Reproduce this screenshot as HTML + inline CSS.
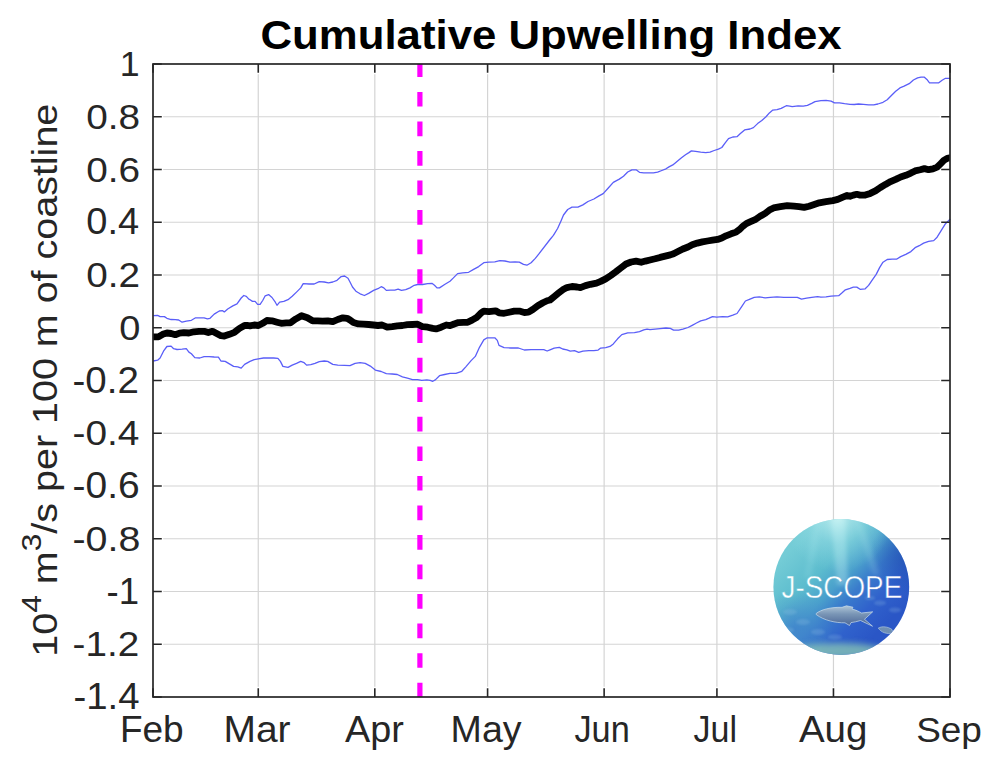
<!DOCTYPE html>
<html><head><meta charset="utf-8"><style>
html,body{margin:0;padding:0;background:#fff;width:1000px;height:769px;overflow:hidden}
svg{display:block}
text{font-family:"Liberation Sans",sans-serif;fill:#262626}
</style></head><body>
<svg width="1000" height="769" viewBox="0 0 1000 769">
<rect width="1000" height="769" fill="#fff"/>
<clipPath id="ax"><rect x="153" y="64" width="797" height="633"/></clipPath>
<g stroke="#d4d4d4" stroke-width="1.2">
<line x1="163.2" y1="116.75" x2="939.8" y2="116.75"/>
<line x1="163.2" y1="169.50" x2="939.8" y2="169.50"/>
<line x1="163.2" y1="222.25" x2="939.8" y2="222.25"/>
<line x1="163.2" y1="275.00" x2="939.8" y2="275.00"/>
<line x1="163.2" y1="327.75" x2="939.8" y2="327.75"/>
<line x1="163.2" y1="380.50" x2="939.8" y2="380.50"/>
<line x1="163.2" y1="433.25" x2="939.8" y2="433.25"/>
<line x1="163.2" y1="486.00" x2="939.8" y2="486.00"/>
<line x1="163.2" y1="538.75" x2="939.8" y2="538.75"/>
<line x1="163.2" y1="591.50" x2="939.8" y2="591.50"/>
<line x1="163.2" y1="644.25" x2="939.8" y2="644.25"/>
<line x1="258.26" y1="74.2" x2="258.26" y2="686.8"/>
<line x1="374.81" y1="74.2" x2="374.81" y2="686.8"/>
<line x1="487.59" y1="74.2" x2="487.59" y2="686.8"/>
<line x1="604.13" y1="74.2" x2="604.13" y2="686.8"/>
<line x1="716.92" y1="74.2" x2="716.92" y2="686.8"/>
<line x1="833.46" y1="74.2" x2="833.46" y2="686.8"/>
</g>
<path d="M153.4,315.7 L157.6,315.4 L160.1,316.6 L164.4,316.6 L166.9,318.3 L171.1,319.5 L175.3,319.6 L178.7,320.0 L182.1,322.2 L186.3,321.1 L191.4,320.3 L195.6,317.8 L199.8,317.9 L204.1,317.8 L207.4,318.8 L210.0,318.3 L214.2,314.1 L219.3,311.0 L222.6,310.7 L224.3,311.9 L227.7,309.0 L232.8,305.9 L237.0,303.9 L241.2,298.0 L243.8,295.5 L246.3,296.3 L248.8,299.2 L250.0,299.7 L252.5,301.4 L255.1,301.4 L257.6,304.3 L260.1,304.3 L262.7,300.5 L265.2,295.8 L268.6,294.6 L272.0,297.5 L275.3,302.2 L277.0,305.3 L279.6,302.2 L283.8,301.4 L288.0,299.7 L292.2,296.3 L296.5,292.1 L300.7,287.9 L303.2,283.6 L309.1,284.0 L314.2,284.0 L319.3,281.6 L324.3,282.0 L328.5,282.8 L332.8,282.0 L337.0,280.3 L341.2,276.6 L344.6,276.0 L348.0,278.2 L350.0,282.0 L352.5,287.0 L355.9,291.2 L360.1,293.8 L364.4,295.5 L368.6,293.4 L373.6,290.4 L377.9,288.7 L381.2,286.7 L383.8,287.9 L386.3,290.4 L390.5,290.1 L394.8,290.1 L398.1,289.1 L401.5,290.4 L405.7,289.6 L410.0,287.9 L414.2,285.3 L417.6,284.5 L422.6,284.5 L427.7,283.6 L431.9,283.3 L434.5,285.3 L437.0,287.9 L439.5,287.9 L444.6,284.5 L450.0,281.2 L453.4,277.9 L457.6,273.6 L462.7,272.8 L468.6,272.3 L473.6,269.4 L478.7,266.6 L483.8,262.7 L488.9,262.2 L494.8,261.8 L499.8,260.6 L504.9,261.0 L510.0,262.2 L515.0,261.8 L519.3,262.2 L523.5,264.4 L526.9,265.2 L531.1,262.7 L535.3,258.4 L538.7,254.2 L550.0,239.5 L553.4,235.3 L557.6,228.5 L561.0,220.9 L563.5,215.0 L567.7,209.5 L572.0,207.1 L577.9,207.1 L582.9,204.9 L588.0,201.5 L593.9,199.0 L599.0,195.9 L603.2,193.6 L608.3,188.0 L613.3,182.4 L619.3,179.1 L623.5,176.2 L627.7,172.0 L631.9,169.8 L636.1,169.8 L639.5,172.3 L643.8,172.8 L650.0,172.8 L653.4,172.8 L657.6,172.2 L661.8,170.5 L666.0,168.8 L669.4,166.6 L672.8,164.9 L677.0,161.5 L681.2,158.1 L685.5,154.8 L688.9,152.6 L691.4,150.9 L695.6,151.4 L700.7,152.2 L705.7,152.6 L710.0,152.2 L714.2,150.5 L718.4,149.2 L721.8,147.5 L725.2,142.9 L728.5,138.7 L732.8,137.0 L737.0,136.7 L740.4,133.6 L744.6,129.9 L750.0,129.0 L753.4,127.6 L757.6,123.6 L761.8,120.5 L766.0,116.8 L769.4,112.9 L772.8,110.1 L777.0,109.6 L781.2,108.4 L786.3,105.7 L789.7,106.2 L792.2,106.7 L798.1,105.8 L803.2,106.2 L807.4,105.3 L811.7,103.3 L815.0,101.6 L820.9,100.6 L826.0,100.3 L831.1,101.1 L834.5,102.8 L839.5,102.8 L844.6,103.6 L850.0,104.3 L854.2,104.5 L858.5,104.0 L863.5,104.3 L868.6,104.8 L873.7,104.8 L877.9,104.0 L883.0,102.3 L887.2,99.7 L891.4,95.5 L895.7,91.3 L899.9,87.9 L904.1,86.2 L909.2,83.7 L913.4,80.0 L917.6,77.8 L921.0,77.2 L924.4,77.2 L926.9,79.4 L929.5,82.8 L934.5,82.8 L938.8,82.8 L942.1,80.3 L945.5,78.3 L948.9,78.3 L950.3,78.6" fill="none" stroke="#5a5ef8" stroke-width="1.3" stroke-linejoin="round"/>
<path d="M153.4,361.0 L157.6,360.2 L160.1,358.0 L163.5,351.2 L166.9,346.5 L171.1,346.1 L173.6,348.7 L177.0,349.5 L182.1,349.2 L186.3,348.7 L188.9,352.1 L191.4,353.8 L194.8,357.6 L199.8,358.0 L204.1,356.6 L209.1,356.6 L214.2,357.0 L218.4,357.1 L220.9,361.0 L225.2,361.4 L229.4,363.9 L233.6,366.4 L237.8,366.8 L241.2,368.1 L244.6,364.4 L250.0,361.4 L254.2,359.7 L258.4,358.8 L263.5,358.0 L268.6,358.0 L273.6,358.0 L277.9,358.3 L280.4,361.4 L282.9,366.4 L288.0,367.3 L292.2,365.1 L296.5,363.4 L300.7,361.4 L304.1,362.7 L306.6,365.1 L310.8,364.7 L315.0,363.4 L319.3,361.7 L324.3,361.0 L327.7,361.4 L332.8,364.4 L337.8,365.1 L344.6,365.4 L350.0,365.6 L355.1,363.4 L360.1,362.7 L365.2,363.4 L370.3,366.1 L375.3,370.1 L381.2,371.5 L386.3,373.7 L392.2,374.0 L397.3,374.5 L402.4,376.9 L407.4,378.2 L412.5,379.6 L417.6,379.6 L421.8,380.3 L426.9,379.9 L430.2,380.3 L432.8,381.3 L435.3,379.9 L439.5,375.7 L444.6,374.5 L450.0,373.3 L455.9,373.3 L461.8,371.3 L466.0,366.6 L471.1,360.6 L475.3,356.4 L479.6,347.1 L483.8,339.9 L487.2,337.8 L494.8,337.8 L497.3,340.4 L499.0,345.4 L504.1,347.6 L510.8,348.0 L518.4,348.0 L524.3,350.0 L531.1,349.7 L537.8,349.7 L543.8,349.7 L547.1,351.0 L550.0,349.8 L554.2,348.1 L559.3,347.3 L562.7,349.0 L566.9,349.8 L570.3,351.1 L574.5,350.6 L578.7,352.3 L582.9,351.1 L588.9,350.6 L593.9,350.6 L598.1,350.1 L600.7,348.1 L605.7,347.6 L610.0,346.4 L613.3,343.9 L617.6,338.8 L621.8,334.6 L627.7,332.9 L634.5,332.6 L639.5,331.6 L643.8,329.9 L647.1,329.2 L650.0,329.7 L655.1,329.2 L660.1,328.7 L666.0,328.0 L670.3,328.4 L673.6,330.1 L678.7,330.1 L682.9,329.2 L688.0,327.5 L692.2,325.3 L696.5,323.0 L700.7,320.8 L705.7,319.6 L709.1,318.2 L712.5,316.6 L716.7,317.1 L722.6,316.6 L727.7,316.9 L732.8,315.2 L737.0,313.5 L741.2,307.3 L745.4,301.0 L750.0,299.1 L754.2,297.4 L759.3,296.9 L765.2,297.9 L770.3,297.4 L777.0,296.9 L783.8,297.4 L790.5,297.4 L797.3,297.4 L801.5,299.1 L806.6,298.2 L811.7,297.4 L817.6,296.6 L820.9,297.1 L826.0,296.9 L831.1,296.2 L838.7,295.7 L842.1,292.8 L845.4,289.8 L850.0,288.3 L853.4,287.1 L856.8,287.1 L860.1,289.3 L865.2,288.8 L868.6,285.4 L872.0,280.3 L876.2,274.4 L879.6,267.6 L883.0,262.2 L887.2,259.5 L892.3,259.2 L896.5,259.2 L900.7,256.6 L905.8,254.4 L910.9,251.6 L915.1,247.7 L919.3,245.7 L923.6,243.1 L928.6,241.4 L933.7,240.6 L937.1,237.2 L941.3,230.4 L945.5,223.7 L950.3,218.9" fill="none" stroke="#5a5ef8" stroke-width="1.3" stroke-linejoin="round"/>
<line x1="419.9" y1="697.4" x2="419.9" y2="60" stroke="#ff00ff" stroke-width="5.2" stroke-dasharray="14.7 14.84" clip-path="url(#ax)"/>
<path d="M153.4,336.9 L158.4,336.9 L162.7,334.3 L166.9,333.0 L171.1,333.5 L175.3,334.7 L179.6,333.1 L183.8,332.6 L188.9,333.0 L193.9,331.8 L199.0,331.3 L204.1,331.3 L208.3,332.6 L212.5,331.3 L216.7,333.5 L220.9,335.7 L224.3,336.0 L229.4,334.3 L234.5,332.3 L239.5,328.4 L244.6,325.5 L248.0,325.5 L250.0,325.9 L254.2,325.0 L258.4,325.5 L262.7,323.3 L266.9,320.5 L272.0,320.8 L277.0,322.2 L281.2,323.3 L286.3,322.8 L290.5,322.8 L295.6,319.1 L301.5,315.7 L307.4,317.8 L312.5,320.8 L317.6,320.8 L322.6,321.1 L327.7,320.8 L332.8,321.7 L337.8,319.5 L342.9,317.8 L347.1,318.3 L350.0,320.0 L353.4,322.5 L358.4,323.9 L363.5,324.2 L368.6,324.5 L373.6,325.0 L377.9,325.5 L382.1,325.0 L387.2,327.2 L392.2,326.7 L397.3,325.9 L402.4,325.5 L407.4,324.7 L412.5,324.5 L417.6,324.2 L422.6,326.7 L427.7,327.2 L432.8,328.4 L436.1,328.9 L441.2,327.2 L446.3,325.0 L450.0,325.7 L454.2,324.0 L458.4,322.6 L463.5,322.3 L467.7,322.3 L472.0,320.1 L477.0,317.2 L481.2,312.8 L483.8,311.1 L488.9,311.7 L495.6,310.8 L499.0,312.8 L504.1,313.3 L509.1,312.2 L514.2,311.1 L519.3,311.1 L524.3,312.5 L528.5,312.2 L532.8,309.5 L537.8,305.7 L542.9,302.7 L547.1,300.7 L550.0,300.0 L554.2,296.6 L558.4,293.2 L562.7,289.8 L566.9,287.6 L572.0,286.5 L577.0,287.0 L580.4,287.6 L585.5,285.6 L590.5,284.3 L596.5,283.1 L600.7,281.4 L605.7,278.9 L610.8,275.5 L615.9,271.8 L620.9,267.9 L626.0,264.0 L631.1,262.0 L636.1,261.1 L641.2,262.3 L645.4,261.1 L650.0,260.0 L655.1,258.8 L660.1,257.4 L665.2,256.1 L670.3,254.9 L673.6,253.7 L677.9,251.5 L682.9,249.0 L688.0,247.0 L692.2,244.8 L697.3,243.1 L702.4,241.9 L707.4,241.0 L712.5,240.2 L717.6,239.4 L721.8,238.0 L726.0,235.8 L731.1,233.8 L736.1,232.1 L739.5,229.6 L742.9,226.2 L746.3,223.6 L750.0,221.9 L755.1,219.7 L760.1,216.3 L765.2,213.4 L769.4,210.1 L773.6,207.9 L780.4,206.7 L787.2,205.7 L793.9,206.2 L799.0,206.7 L804.1,207.4 L809.1,206.2 L814.2,204.5 L819.3,202.8 L826.0,201.6 L832.8,200.6 L837.8,199.4 L842.9,197.2 L847.1,195.5 L850.0,196.3 L853.4,195.1 L856.8,194.3 L860.1,195.1 L865.2,195.1 L870.3,193.4 L875.4,190.9 L880.4,187.5 L885.5,184.4 L890.6,181.6 L895.7,179.4 L900.7,177.0 L905.8,175.3 L910.9,173.1 L915.1,170.9 L920.2,169.7 L924.4,168.6 L928.6,169.7 L932.9,168.9 L937.1,167.2 L940.5,163.8 L943.8,160.4 L947.2,158.4 L949.8,157.9" fill="none" stroke="#000" stroke-width="6.8" stroke-linejoin="round" stroke-linecap="round" clip-path="url(#ax)"/>
<path d="M153,64.00h8.8 M950,64.00h-8.8 M153,116.75h8.8 M950,116.75h-8.8 M153,169.50h8.8 M950,169.50h-8.8 M153,222.25h8.8 M950,222.25h-8.8 M153,275.00h8.8 M950,275.00h-8.8 M153,327.75h8.8 M950,327.75h-8.8 M153,380.50h8.8 M950,380.50h-8.8 M153,433.25h8.8 M950,433.25h-8.8 M153,486.00h8.8 M950,486.00h-8.8 M153,538.75h8.8 M950,538.75h-8.8 M153,591.50h8.8 M950,591.50h-8.8 M153,644.25h8.8 M950,644.25h-8.8 M153,697.00h8.8 M950,697.00h-8.8 M153.00,697v-8.8 M153.00,64v8.8 M258.26,697v-8.8 M258.26,64v8.8 M374.81,697v-8.8 M374.81,64v8.8 M487.59,697v-8.8 M487.59,64v8.8 M604.13,697v-8.8 M604.13,64v8.8 M716.92,697v-8.8 M716.92,64v8.8 M833.46,697v-8.8 M833.46,64v8.8 M950.00,697v-8.8 M950.00,64v8.8" stroke="#262626" stroke-width="1.6" fill="none"/>
<rect x="153" y="64" width="797" height="633" fill="none" stroke="#262626" stroke-width="1.7"/>
<g font-size="36">
<text transform="matrix(0.9917,0,0,1,139.49,76.00)" text-anchor="end">1</text>
<text transform="matrix(1.0772,0,0,1,140.12,128.75)" text-anchor="end">0.8</text>
<text transform="matrix(1.0772,0,0,1,140.12,181.50)" text-anchor="end">0.6</text>
<text transform="matrix(1.0561,0,0,1,139.11,234.25)" text-anchor="end">0.4</text>
<text transform="matrix(1.0768,0,0,1,140.11,287.00)" text-anchor="end">0.2</text>
<text transform="matrix(1.0557,0,0,1,140.48,339.75)" text-anchor="end">0</text>
<text transform="matrix(1.0700,0,0,1,138.90,392.50)" text-anchor="end">-0.2</text>
<text transform="matrix(1.0776,0,0,1,139.33,445.25)" text-anchor="end">-0.4</text>
<text transform="matrix(1.0824,0,0,1,139.64,498.00)" text-anchor="end">-0.6</text>
<text transform="matrix(1.0944,0,0,1,140.36,550.75)" text-anchor="end">-0.8</text>
<text transform="matrix(1.0145,0,0,1,139.06,603.50)" text-anchor="end">-1</text>
<text transform="matrix(1.0736,0,0,1,139.12,656.25)" text-anchor="end">-1.2</text>
<text transform="matrix(1.0659,0,0,1,139.54,709.00)" text-anchor="end">-1.4</text>
<text transform="matrix(1.0277,0,0,1,151.76,741.80)" text-anchor="middle">Feb</text>
<text transform="matrix(1.0825,0,0,1,256.99,741.80)" text-anchor="middle">Mar</text>
<text transform="matrix(1.0501,0,0,1,374.49,741.80)" text-anchor="middle">Apr</text>
<text transform="matrix(1.0444,0,0,1,486.11,741.80)" text-anchor="middle">May</text>
<text transform="matrix(0.9522,0,0,1,602.07,741.80)" text-anchor="middle">Jun</text>
<text transform="matrix(0.9448,0,0,1,715.32,741.80)" text-anchor="middle">Jul</text>
<text transform="matrix(1.0700,0,0,1,833.16,741.80)" text-anchor="middle">Aug</text>
<text transform="matrix(1.0269,0,0,1,949.00,741.80)" text-anchor="middle">Sep</text>
</g>
<text transform="matrix(1.0810,0,0,1,551.01,48.50)" text-anchor="middle" font-size="40.5" font-weight="bold" style="fill:#000">Cumulative Upwelling Index</text>
<g transform="translate(57.00,380.20) rotate(-90) scale(1.1120,1)">
<text x="0" y="0" text-anchor="middle" font-size="35.5">10<tspan font-size="28.5" dy="-16.5">4</tspan><tspan dy="16.5"> m</tspan><tspan font-size="28.5" dy="-16.5">3</tspan><tspan dy="16.5">/s per 100 m of coastline</tspan></text>
</g>
<defs>
<filter id="bl1" x="-50%" y="-50%" width="200%" height="200%"><feGaussianBlur stdDeviation="1"/></filter>
<filter id="bl2" x="-50%" y="-50%" width="200%" height="200%"><feGaussianBlur stdDeviation="2"/></filter>
<filter id="bl3" x="-50%" y="-50%" width="200%" height="200%"><feGaussianBlur stdDeviation="3"/></filter>
<clipPath id="cc"><circle cx="841.3" cy="587" r="67.9"/></clipPath>
<linearGradient id="gh" gradientUnits="userSpaceOnUse" x1="800" y1="540" x2="885" y2="625">
<stop offset="0" stop-color="#74ccd6"/><stop offset="0.3" stop-color="#5cbcce"/><stop offset="0.48" stop-color="#4aa0cc"/><stop offset="0.62" stop-color="#3a7ccc"/><stop offset="0.8" stop-color="#3062cc"/><stop offset="1" stop-color="#2a56c6"/>
</linearGradient>
<radialGradient id="gr" gradientUnits="userSpaceOnUse" cx="838" cy="517" r="55">
<stop offset="0" stop-color="#d0f6f4" stop-opacity="0.85"/><stop offset="0.5" stop-color="#a8e6ec" stop-opacity="0.35"/><stop offset="1" stop-color="#a0e4ec" stop-opacity="0"/>
</radialGradient>
<radialGradient id="gd" gradientUnits="userSpaceOnUse" cx="910" cy="555" r="40">
<stop offset="0" stop-color="#1a42a8" stop-opacity="0.6"/><stop offset="1" stop-color="#1a42a8" stop-opacity="0"/>
</radialGradient>
<radialGradient id="gl" gradientUnits="userSpaceOnUse" cx="795" cy="628" r="38">
<stop offset="0" stop-color="#3f80cc" stop-opacity="0.75"/><stop offset="1" stop-color="#4a90cc" stop-opacity="0"/>
</radialGradient>
<radialGradient id="gb" gradientUnits="userSpaceOnUse" cx="838" cy="653" r="48" gradientTransform="translate(838,653) scale(1,0.32) translate(-838,-653)">
<stop offset="0" stop-color="#a8d8b8" stop-opacity="0.95"/><stop offset="0.5" stop-color="#78b8ac" stop-opacity="0.6"/><stop offset="1" stop-color="#70b0b0" stop-opacity="0"/>
</radialGradient>
<linearGradient id="gf" x1="0" y1="0" x2="0" y2="1">
<stop offset="0" stop-color="#b0c6d8"/><stop offset="0.4" stop-color="#7a96b6"/><stop offset="1" stop-color="#4a6494"/>
</linearGradient>
</defs>
<g id="logo" clip-path="url(#cc)">
<rect x="770" y="515" width="145" height="145" fill="url(#gh)"/>
<rect x="770" y="515" width="145" height="145" fill="url(#gd)"/>
<rect x="770" y="515" width="145" height="145" fill="url(#gl)"/>
<rect x="770" y="515" width="145" height="100" fill="url(#gr)"/>
<g filter="url(#bl2)">
<path d="M831,515 L845,515 L848,585 L837,585 Z" fill="#d8fafa" opacity="0.28"/>
<path d="M852,515 L860,515 L880,575 L873,575 Z" fill="#c8f4f4" opacity="0.14"/>
<path d="M815,515 L823,515 L811,578 L804,578 Z" fill="#c8f4f4" opacity="0.12"/>
</g>
<g fill="#9cc8e8" opacity="0.22" filter="url(#bl1)">
<ellipse cx="790" cy="612" rx="7" ry="3"/><ellipse cx="803" cy="622" rx="7" ry="3"/><ellipse cx="788" cy="630" rx="6" ry="2.5"/>
<ellipse cx="818" cy="632" rx="7" ry="3"/><ellipse cx="835" cy="637" rx="7" ry="2.5"/><ellipse cx="880" cy="603" rx="6" ry="2.5"/>
<ellipse cx="895" cy="610" rx="6" ry="2.5"/><ellipse cx="870" cy="598" rx="5" ry="2"/>
</g>
<ellipse cx="838" cy="651" rx="46" ry="8" fill="#8ccab4" opacity="0.75" filter="url(#bl3)"/>
<path d="M816.2,613.5 C821,609.5 831,607 842,607.3 L846.5,605.8 L853,607.2 L852,609 C856,610 859,611.5 861.5,613 L872.7,611.8 L864.5,619.3 L872.5,626.2 L860.5,620.5 C857,621.5 854,622.3 851,622.6 L849.5,625.5 L845,622.8 C836,623 824,620.5 816.2,614.5 Z" fill="url(#gf)" stroke="#c8dcec" stroke-width="0.7"/>
<path d="M878.3,628 C882,626 888,626.5 892,629.5 L893,633 C887,634.5 881,632.5 878.3,628 Z" fill="#6f8fb4" stroke="#b8d0e8" stroke-width="0.6"/>
<text x="781.6" y="597.5" textLength="120.6" lengthAdjust="spacingAndGlyphs" font-size="30.7" stroke="url(#gh)" stroke-width="0.45" style="fill:#fff;font-family:'Liberation Sans',sans-serif">J-SCOPE</text>
</g>
</svg>
</body></html>
